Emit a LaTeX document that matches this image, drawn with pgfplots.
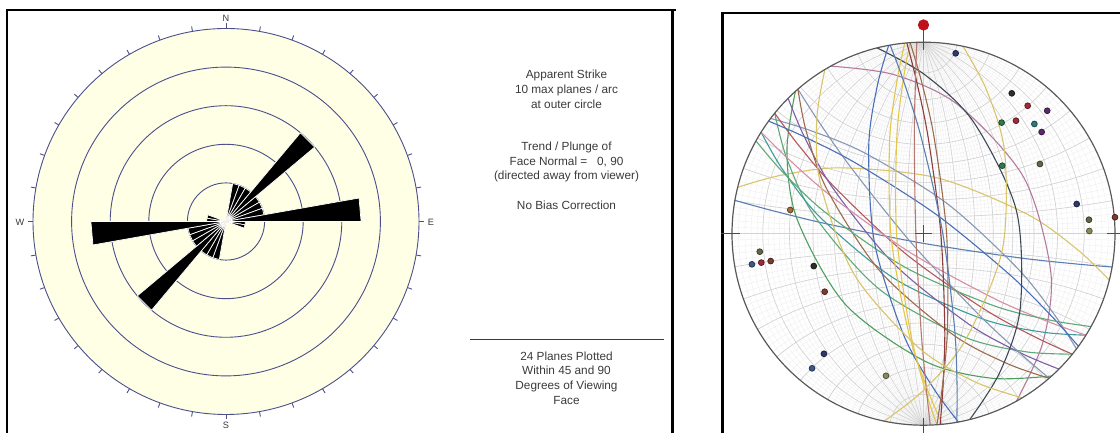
\documentclass[border=0pt]{standalone}
\usepackage{pgfplots}
\pgfplotsset{compat=1.18}
\usepgfplotslibrary{polar}
\usepackage{pgfplotstable}
\usepackage{fontspec}
\setmainfont{Liberation Sans}

\definecolor{cream}{HTML}{FFFFE5}
\definecolor{ring}{HTML}{4B4F8C}
\definecolor{txt}{HTML}{3A3A3A}
\definecolor{netmaj}{HTML}{D2D2D2}
\definecolor{netmin}{HTML}{EEEEEE}
% great-circle colours
\definecolor{csb}{HTML}{5A7FB0}
\definecolor{ckh}{HTML}{D9C46A}
\definecolor{cmv}{HTML}{B57A9F}
\definecolor{cgr}{HTML}{4F9E5F}
\definecolor{cgt}{HTML}{5FA878}
\definecolor{ctl}{HTML}{3F9B9B}
\definecolor{crd}{HTML}{B5575A}
\definecolor{cdr}{HTML}{8E3B3B}
\definecolor{cpu}{HTML}{7D5FA6}
\definecolor{cgb}{HTML}{8797B5}
\definecolor{cpk}{HTML}{D48FA8}
\definecolor{cpb}{HTML}{B5786E}
\definecolor{cbr}{HTML}{9C6B4E}
\definecolor{cbl}{HTML}{4A6FB8}
\definecolor{cds}{HTML}{3D4856}
\definecolor{cyl}{HTML}{E3C64A}
% pole colours
\definecolor{pnv}{HTML}{2F3A6B}
\definecolor{pbk}{HTML}{2A2F2A}
\definecolor{prd}{HTML}{9E2A3A}
\definecolor{ppu}{HTML}{5A2A6A}
\definecolor{pgr}{HTML}{2F7A4A}
\definecolor{ptl}{HTML}{2F7A7A}
\definecolor{pol}{HTML}{5E6A45}
\definecolor{ptn}{HTML}{8A8A5A}
\definecolor{pbr}{HTML}{7E3A2E}
\definecolor{psb}{HTML}{3A5A8A}
\definecolor{por}{HTML}{A07040}
\definecolor{pmark}{HTML}{C0101A}

\pgfplotsset{
  petal/.style={fill=black, draw=white, line width=0.35pt, mark=none},
  gc/.style={smooth, line width=0.55pt, mark=none},
}

% poles to the planes (unit net radius)
\pgfplotstableread{
x      y      c
0.168  0.942  nv
0.461  0.733  bk
0.544  0.668  rd
0.646  0.642  pu
0.408  0.580  gr
0.483  0.590  rd
0.579  0.573  tl
0.617  0.531  pu
0.411  0.355  gr
0.608  0.364  ol
0.800  0.155  nv
0.864  0.073  ol
0.866  0.014  tn
1.000  0.086  br
-0.855 -0.094 ol
-0.896 -0.160 sb
-0.847 -0.151 rd
-0.798 -0.143 br
-0.573 -0.169 bk
-0.516 -0.303 br
-0.520 -0.627 nv
-0.582 -0.703 sb
-0.196 -0.742 tn
-0.696  0.124 or
}\poles

\begin{document}
\begin{tikzpicture}[x=0.5pt,y=0.5pt]
\path (0,0) rectangle (1120,433);
% ---------- panel frames ----------
\draw[line width=1.2pt] (7,0) -- (7,423) -- (676,423);
\draw[line width=1.2pt] (672.5,423) -- (672.5,0);
\draw[line width=1.2pt] (722.5,0) -- (722.5,420) -- (1120,420);

% ---------- rose diagram: background, rings, compass ticks ----------
\fill[cream] (226,211.5) circle [radius=193];
\foreach \r in {38.6,77.2,115.8,154.4,193}
  \draw[ring, line width=0.45pt] (226,211.5) circle [radius=\r];
\foreach \a in {0,10,...,350}
  \draw[ring, line width=0.45pt] (226,211.5) ++({90-\a}:193) -- ++({90-\a}:5);
\begin{scope}[txt, font=\fontsize{4.6}{5}\selectfont]
  \node at (226,415) {N};
  \node at (226,8) {S};
  \node at (20,211) {W};
  \node at (431,211) {E};
\end{scope}

% petals: angle counter-clockwise from east, radius = number of planes
\begin{polaraxis}[at={(113pt,105.75pt)}, anchor=center, hide axis, scale only axis,
  width=193pt, height=193pt, ymin=0, ymax=10, clip=false]
\addplot[petal] coordinates {(0,0) (70,2) (80,2) (0,0)} -- cycle;
\addplot[petal] coordinates {(0,0) (60,2) (70,2) (0,0)} -- cycle;
\addplot[petal] coordinates {(0,0) (50,2) (60,2) (0,0)} -- cycle;
\addplot[petal] coordinates {(0,0) (40,6) (50,6) (0,0)} -- cycle;
\addplot[petal] coordinates {(0,0) (30,2) (40,2) (0,0)} -- cycle;
\addplot[petal] coordinates {(0,0) (20,2) (30,2) (0,0)} -- cycle;
\addplot[petal] coordinates {(0,0) (10,2) (20,2) (0,0)} -- cycle;
\addplot[petal] coordinates {(0,0) (0,7) (10,7) (0,0)} -- cycle;
\addplot[petal] coordinates {(0,0) (350,1) (360,1) (0,0)} -- cycle;
\addplot[petal] coordinates {(0,0) (340,1) (350,1) (0,0)} -- cycle;
\addplot[petal] coordinates {(0,0) (250,2) (260,2) (0,0)} -- cycle;
\addplot[petal] coordinates {(0,0) (240,2) (250,2) (0,0)} -- cycle;
\addplot[petal] coordinates {(0,0) (230,2) (240,2) (0,0)} -- cycle;
\addplot[petal] coordinates {(0,0) (220,6) (230,6) (0,0)} -- cycle;
\addplot[petal] coordinates {(0,0) (210,2) (220,2) (0,0)} -- cycle;
\addplot[petal] coordinates {(0,0) (200,2) (210,2) (0,0)} -- cycle;
\addplot[petal] coordinates {(0,0) (190,2) (200,2) (0,0)} -- cycle;
\addplot[petal] coordinates {(0,0) (180,7) (190,7) (0,0)} -- cycle;
\addplot[petal] coordinates {(0,0) (170,1) (180,1) (0,0)} -- cycle;
\addplot[petal] coordinates {(0,0) (160,1) (170,1) (0,0)} -- cycle;
\end{polaraxis}

% ---------- legend text ----------
\begin{scope}[txt, font=\fontsize{5.9}{7.4}\selectfont]
  \node[align=center] at (566.5,344) {Apparent Strike\\10 max planes / arc\\at outer circle};
  \node[align=center] at (566.5,271) {Trend / Plunge of\\Face Normal = \ \ 0, 90\\(directed away from viewer)};
  \node[align=center] at (566.5,228) {No Bias Correction};
  \draw[line width=0.5pt] (470,93.7) -- (664,93.7);
  \node[align=center] at (566.5,55) {24 Planes Plotted\\Within 45 and 90\\Degrees of Viewing\\Face};
\end{scope}

% ---------- stereonet ----------
\begin{axis}[at={(461.75pt,99.65pt)}, anchor=center, hide axis, scale only axis,
  width=229.8pt, height=229.8pt, xmin=-1.2, xmax=1.2, ymin=-1.2, ymax=1.2, clip=false]
\pgfplotsextra{
  \begin{scope}
    \clip (axis cs:0,0) circle [radius=95.75pt];
    \foreach \d in {2,4,...,88} {
      \draw[netmin, line width=0.2pt] (axis cs:{tan(\d)},0) circle [radius={95.75pt/cos(\d)}];
      \draw[netmin, line width=0.2pt] (axis cs:{-tan(\d)},0) circle [radius={95.75pt/cos(\d)}];
      \draw[netmin, line width=0.2pt] (axis cs:0,{1/cos(\d)}) circle [radius={95.75pt*tan(\d)}];
      \draw[netmin, line width=0.2pt] (axis cs:0,{-1/cos(\d)}) circle [radius={95.75pt*tan(\d)}];
    }
    \foreach \d in {10,20,...,80} {
      \draw[netmaj, line width=0.3pt] (axis cs:{tan(\d)},0) circle [radius={95.75pt/cos(\d)}];
      \draw[netmaj, line width=0.3pt] (axis cs:{-tan(\d)},0) circle [radius={95.75pt/cos(\d)}];
      \draw[netmaj, line width=0.3pt] (axis cs:0,{1/cos(\d)}) circle [radius={95.75pt*tan(\d)}];
      \draw[netmaj, line width=0.3pt] (axis cs:0,{-1/cos(\d)}) circle [radius={95.75pt*tan(\d)}];
    }
    \draw[netmaj, line width=0.3pt] (axis cs:-1,0) -- (axis cs:1,0);
    \draw[netmaj, line width=0.3pt] (axis cs:0,-1) -- (axis cs:0,1);
  \end{scope}
}
% great circles
\addplot[gc, csb] coordinates {(-0.985,0.174) (-0.791,0.121) (-0.499,0.050) (-0.009,-0.049) (0.486,-0.124) (0.785,-0.157) (0.985,-0.174)};
\addplot[gc, ckh] coordinates {(-0.970,0.242) (-0.749,0.304) (-0.430,0.344) (0.073,0.291) (0.541,0.102) (0.804,-0.083) (0.970,-0.242)};
\addplot[gc, cgb] coordinates {(-0.799,0.602) (-0.594,0.540) (-0.308,0.422) (0.120,0.160) (0.490,-0.180) (0.683,-0.422) (0.799,-0.602)};
\addplot[gc, cmv] coordinates {(-0.485,0.875) (-0.152,0.830) (0.181,0.672) (0.525,0.291) (0.665,-0.203) (0.623,-0.569) (0.485,-0.875)};
\addplot[gc, cgr] coordinates {(-0.669,0.743) (-0.713,0.434) (-0.661,0.078) (-0.409,-0.368) (0.008,-0.666) (0.358,-0.755) (0.669,-0.743)};
\addplot[gc, cgt] coordinates {(-0.777,0.629) (-0.713,0.390) (-0.569,0.092) (-0.233,-0.288) (0.208,-0.537) (0.530,-0.616) (0.777,-0.629)};
\addplot[gc, ctl] coordinates {(-0.848,0.530) (-0.735,0.334) (-0.537,0.083) (-0.148,-0.237) (0.311,-0.446) (0.622,-0.514) (0.848,-0.530)};
\addplot[gc, crd] coordinates {(-0.777,0.629) (-0.654,0.464) (-0.455,0.233) (-0.088,-0.109) (0.322,-0.397) (0.590,-0.543) (0.777,-0.629)};
\addplot[gc, cpu] coordinates {(-0.707,0.707) (-0.623,0.508) (-0.472,0.236) (-0.156,-0.156) (0.236,-0.472) (0.508,-0.623) (0.707,-0.707)};
\addplot[gc, cgb] coordinates {(-0.656,0.755) (-0.547,0.585) (-0.373,0.338) (-0.060,-0.052) (0.283,-0.417) (0.503,-0.623) (0.656,-0.755)};
\addplot[gc, cpk] coordinates {(-0.848,0.530) (-0.702,0.387) (-0.472,0.188) (-0.064,-0.102) (0.376,-0.342) (0.655,-0.461) (0.848,-0.530)};
\addplot[gc, cbr] coordinates {(-0.656,0.755) (-0.611,0.529) (-0.502,0.227) (-0.226,-0.197) (0.155,-0.528) (0.439,-0.679) (0.656,-0.755)};
\addplot[gc, cbl] coordinates {(-0.809,0.588) (-0.622,0.506) (-0.351,0.367) (0.071,0.097) (0.458,-0.221) (0.673,-0.435) (0.809,-0.588)};
\addplot[gc, cgt] coordinates {(-0.875,0.485) (-0.736,0.323) (-0.511,0.110) (-0.097,-0.175) (0.364,-0.375) (0.664,-0.452) (0.875,-0.485)};
\addplot[gc, cds] coordinates {(-0.242,0.970) (0.011,0.827) (0.263,0.581) (0.485,0.121) (0.505,-0.390) (0.398,-0.725) (0.242,-0.970)};
\addplot[gc, cbl] coordinates {(-0.182,0.983) (-0.242,0.769) (-0.286,0.456) (-0.256,-0.047) (-0.104,-0.528) (0.050,-0.804) (0.182,-0.983)};
\addplot[gc, cyl] coordinates {(-0.098,0.995) (-0.140,0.790) (-0.177,0.485) (-0.169,-0.017) (-0.079,-0.510) (0.016,-0.802) (0.098,-0.995)};
\addplot[gc, cyl] coordinates {(-0.070,0.998) (-0.107,0.795) (-0.140,0.491) (-0.140,-0.010) (-0.070,-0.506) (0.005,-0.802) (0.070,-0.998)};
\addplot[gc, cdr] coordinates {(-0.087,0.996) (-0.037,0.800) (0.024,0.504) (0.090,0.008) (0.111,-0.492) (0.102,-0.794) (0.087,-0.996)};
\addplot[gc, cbr] coordinates {(-0.070,0.998) (-0.012,0.801) (0.055,0.505) (0.120,0.008) (0.125,-0.493) (0.099,-0.795) (0.070,-0.998)};
\addplot[gc, cpb] coordinates {(-0.035,0.999) (-0.042,0.799) (-0.048,0.499) (-0.040,-0.001) (-0.013,-0.501) (0.014,-0.800) (0.035,-0.999)};
\addplot[gc, ckh] coordinates {(-0.206,-0.979) (0.000,-0.818) (0.218,-0.557) (0.411,-0.087) (0.424,0.422) (0.330,0.748) (0.206,0.979)};
\addplot[gc, ckh] coordinates {(-0.515,0.857) (-0.557,0.599) (-0.538,0.260) (-0.360,-0.216) (-0.023,-0.597) (0.267,-0.773) (0.515,-0.857)};
\addplot[gc, csb] coordinates {(-0.174,0.985) (-0.103,0.794) (-0.013,0.506) (0.098,0.017) (0.161,-0.479) (0.175,-0.782) (0.174,-0.985)};

% primitive circle and cardinal ticks
\pgfplotsextra{
  \draw[black!65, line width=0.6pt] (axis cs:0,0) circle [radius=95.75pt];
  \begin{scope}[black!70, line width=0.5pt]
    \draw (axis cs:-0.045,0) -- (axis cs:0.045,0);
    \draw (axis cs:0,-0.045) -- (axis cs:0,0.045);
    \draw (axis cs:-1.06,0) -- (axis cs:-0.96,0);
    \draw (axis cs:0.96,0) -- (axis cs:1.06,0);
    \draw (axis cs:0,-0.96) -- (axis cs:0,-1.04);
    \draw (axis cs:0,0.96) -- (axis cs:0,1.09);
  \end{scope}
}
% poles
\addplot[scatter, only marks, mark=*, mark size=1.45pt, point meta=explicit symbolic,
  scatter/classes={
    nv={fill=pnv, draw=pnv!60!black}, bk={fill=pbk, draw=pbk!60!black},
    rd={fill=prd, draw=prd!60!black}, pu={fill=ppu, draw=ppu!60!black},
    gr={fill=pgr, draw=pgr!60!black}, tl={fill=ptl, draw=ptl!60!black},
    ol={fill=pol, draw=pol!60!black}, tn={fill=ptn, draw=ptn!60!black},
    br={fill=pbr, draw=pbr!60!black}, sb={fill=psb, draw=psb!60!black},
    or={fill=por, draw=por!60!black}}]
  table[x=x, y=y, meta=c] {\poles};
% viewing direction marker
\addplot[only marks, mark=*, mark size=2.6pt, pmark] coordinates {(0,1.09)};
\end{axis}

\pgfresetboundingbox
\path[use as bounding box] (0,0) rectangle (1120,433);
\end{tikzpicture}
\end{document}
